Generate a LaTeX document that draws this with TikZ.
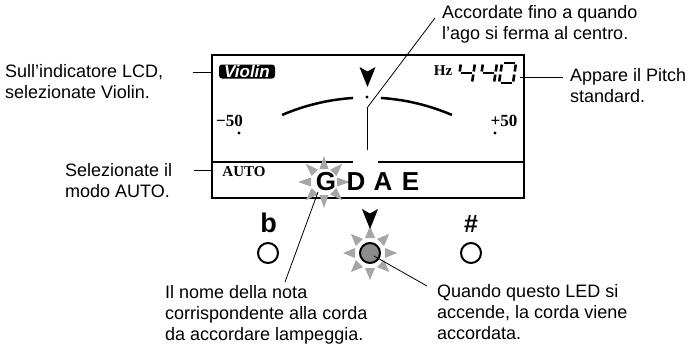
\documentclass[tikz,border=0pt]{standalone}
\usepackage{fontspec}
\setmainfont{Liberation Sans}
\newfontfamily\lcdfont{Liberation Serif}
\usepackage{tikz}

\begin{document}
\begin{tikzpicture}[x=1pt, y=-1pt,
    notetext/.style={align=left, anchor=west, inner sep=0pt, font=\fontsize{18}{21}\selectfont},
    leader/.style={line width=0.8pt},
    flash/.style={fill=black!35},
    lamp/.style={circle, draw, line width=2pt, minimum size=20pt, inner sep=0pt},
    notename/.style={inner sep=0pt, font=\fontsize{26}{26}\selectfont\bfseries},
    seg/.style={line width=2.6pt},
    tunepointer/.pic={\fill (-8,0) -- (0,4.5) -- (8,0) .. controls (4.5,9) .. (0,20) .. controls (-4.5,9) .. (-8,0) -- cycle;}
  ]
  \useasboundingbox (0,0) rectangle (692,349);

  % Draw the LCD frame
  \node[draw, line width=2.4pt, minimum width=312pt, minimum height=143pt, inner sep=0pt] (lcd) at (368,126.5) {};
  \draw[line width=1.1pt] (212,162) -- (353,162) (378,162) -- (524,162);

  % Instrument and pitch
  \node[fill=black, rounded corners=3pt, text=white, inner sep=0pt, minimum width=56pt, minimum height=14pt,
        font=\fontsize{17}{17}\selectfont\bfseries\itshape] (violin) at (247,71.5) {Violin};
  \node[inner sep=0pt, font=\lcdfont\bfseries\fontsize{15}{15}\selectfont] (hz) at (443,71) {Hz};
  \begin{scope}[shift={(461,63)}, xslant=0.15]
    \foreach \xa/\ya/\xb/\yb in {0/1.5/0/8.5, 1.5/10/12.5/10, 14/1.5/14/8.5, 14/11.5/14/18.5}
      \draw[seg] (\xa,\ya) -- (\xb,\yb);
  \end{scope}
  \begin{scope}[shift={(483,63)}, xslant=0.15]
    \foreach \xa/\ya/\xb/\yb in {0/1.5/0/8.5, 1.5/10/12.5/10, 14/1.5/14/8.5, 14/11.5/14/18.5}
      \draw[seg] (\xa,\ya) -- (\xb,\yb);
  \end{scope}
  \begin{scope}[shift={(502,63)}, xslant=0.15]
    \foreach \xa/\ya/\xb/\yb in {1.5/0/12.5/0, 14/1.5/14/8.5, 14/11.5/14/18.5, 1.5/20/12.5/20, 0/11.5/0/18.5, 0/1.5/0/8.5}
      \draw[seg] (\xa,\ya) -- (\xb,\yb);
  \end{scope}

  % Meter with needle
  \pic at (367.5,67) {tunepointer};
  \fill (367,97) circle[radius=1.6];
  \draw[line width=2.5pt] (367,313) ++(-113.2:215.5) arc[start angle=-113.2, end angle=-93.7, radius=215.5];
  \draw[line width=2.5pt] (367,313) ++(-86.3:215.5) arc[start angle=-86.3, end angle=-66.8, radius=215.5];
  \coordinate (needletop) at (367,108);
  \draw[line width=1pt] (needletop) -- (367,150);
  \node[inner sep=0pt, font=\lcdfont\bfseries\fontsize{17}{17}\selectfont] (minus) at (229.5,121) {−50};
  \node[inner sep=0pt, font=\lcdfont\bfseries\fontsize{17}{17}\selectfont] (plus) at (504,121) {+50};
  \fill (239,133) circle[radius=1.6];
  \fill (495,133) circle[radius=1.6];

  % Mode and strings
  \node[inner sep=0pt, font=\lcdfont\bfseries\fontsize{15}{15}\selectfont] (auto) at (244,172) {AUTO};
  \begin{scope}[shift={(324,182)}]
    \foreach \a in {0,45,...,315}
      \fill[flash, rotate=\a] (13,-4.5) -- (26,0) -- (13,4.5) -- cycle;
  \end{scope}
  \node[notename] (noteG) at (326,181.5) {G};
  \node[notename] (noteD) at (356,181.5) {D};
  \node[notename] (noteA) at (383,181.5) {A};
  \node[notename] (noteE) at (410.5,181.5) {E};

  % Tuning lamps
  \node[inner sep=0pt, font=\fontsize{27}{27}\selectfont\bfseries] (flat) at (268.5,222.5) {b};
  \node[lamp] (flatlamp) at (268,253) {};
  \begin{scope}[shift={(370,253)}]
    \foreach \a in {0,45,...,315}
      \fill[flash, rotate=\a] (15,-5) -- (27,0) -- (15,5) -- cycle;
  \end{scope}
  \pic at (370,209) {tunepointer};
  \node[lamp, fill=black!45] (led) at (370,253) {};
  \node[inner sep=0pt, font=\fontsize{25}{25}\selectfont\bfseries] (sharp) at (471,224) {\#};
  \node[lamp] (sharplamp) at (471,253) {};

  % Captions
  \node[notetext] (lblviolin) at (5,82) {Sull’indicatore LCD,\\selezionate Violin.};
  \node[notetext] (lblauto) at (65,181) {Selezionate il\\modo AUTO.};
  \node[notetext] (lblneedle) at (442,24.5) {Accordate fino a quando\\l’ago si ferma al centro.};
  \node[notetext] (lblpitch) at (570,86) {Appare il Pitch\\standard.};
  \node[notetext] (lblnote) at (165,314.5) {Il nome della nota\\corrispondente alla corda\\da accordare lampeggia.};
  \node[notetext] (lblled) at (437,312) {Quando questo LED si\\accende, la corda viene\\accordata.};

  % Leader lines
  \coordinate (violinend) at (193,72);
  \draw[leader] (violinend) -- (violinend -| lcd.west);
  \coordinate (autoend) at (194,170);
  \draw[leader] (autoend) -- (autoend -| lcd.west);
  \coordinate (pitchtip) at (520,77);
  \coordinate (pitchend) at (563,77);
  \draw[leader] (pitchtip) -- (pitchend);
  \coordinate (needleend) at (435,18);
  \draw[leader] (needletop) -- (needleend);
  \coordinate (notetip) at (318,192);
  \coordinate (noteend) at (285,282);
  \draw[leader] (notetip) -- (noteend);
  \coordinate (ledend) at (427,286);
  \draw[leader] ([shift={(4,3)}]led.center) -- (ledend);
\end{tikzpicture}
\end{document}
